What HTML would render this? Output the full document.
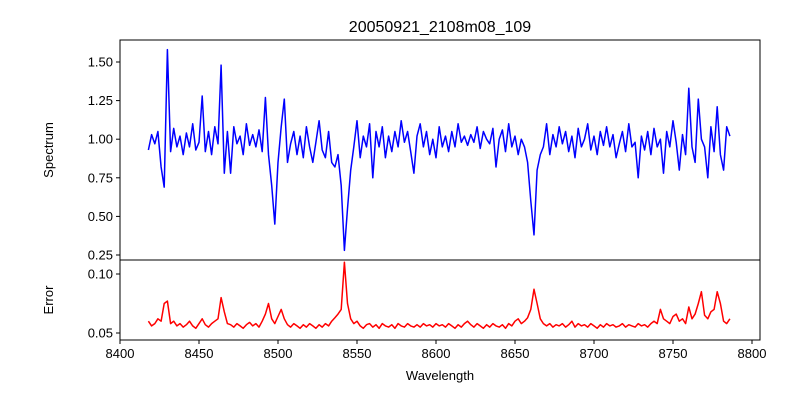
<!DOCTYPE html>
<html><head><meta charset="utf-8"><style>
body{margin:0;background:#fff}
svg text{font-family:"Liberation Sans",sans-serif;fill:#000}
</style></head><body>
<svg id="chart" width="800" height="400">
<rect x="0" y="0" width="800" height="400" fill="#fff"/>
<text x="440" y="32" font-size="16" text-anchor="middle">20050921_2108m08_109</text>
<text x="440" y="380" font-size="13" text-anchor="middle">Wavelength</text>
<text transform="translate(53,150) rotate(-90)" font-size="13" text-anchor="middle">Spectrum</text>
<text transform="translate(53,300) rotate(-90)" font-size="13" text-anchor="middle">Error</text>
<g id="g"></g>
</svg>
<script>
const waveStart = 8418;
const waveStep = 2;
const spectrum = [0.93,1.03,0.97,1.05,0.82,0.69,1.58,0.92,1.07,0.95,
1.02,0.90,1.04,0.95,1.10,0.93,0.98,1.28,0.92,1.05,
0.90,1.08,0.97,1.48,0.78,1.05,0.78,1.08,0.97,1.02,
0.90,1.10,0.96,1.03,0.95,1.06,0.92,1.27,0.90,0.70,
0.45,0.85,1.08,1.26,0.85,0.97,1.05,0.90,1.02,0.88,
1.08,0.95,0.85,0.98,1.12,0.93,0.88,1.05,0.85,0.82,
0.90,0.70,0.28,0.55,0.80,0.95,1.12,0.88,1.02,0.95,
1.10,0.75,1.05,0.95,1.08,0.88,1.02,0.92,1.05,0.95,
1.12,0.98,1.05,0.92,0.78,1.02,1.10,0.95,1.05,0.90,
1.00,0.88,1.08,0.95,1.02,0.92,1.05,0.95,1.10,0.98,
1.02,0.96,1.03,0.98,1.08,0.94,1.05,1.00,0.97,1.07,
0.82,1.00,1.06,0.92,1.10,0.95,1.02,0.90,1.00,0.95,
0.85,0.60,0.38,0.80,0.90,0.95,1.10,0.90,1.03,0.95,
1.08,0.97,1.05,0.92,1.02,0.88,1.07,0.95,1.00,1.10,
0.93,1.02,0.90,1.05,0.96,1.08,0.95,1.03,0.88,0.97,
1.05,0.92,1.10,0.95,0.98,0.75,1.02,0.93,1.05,0.90,
1.07,0.95,1.00,0.78,1.05,0.95,1.12,0.98,0.80,1.03,
0.90,1.33,0.95,0.85,1.26,1.00,0.95,0.75,1.08,0.92,
1.21,0.90,0.80,1.08,1.02];
const errorVals = [0.060,0.056,0.058,0.062,0.060,0.075,0.077,0.058,0.060,0.056,
0.058,0.055,0.057,0.060,0.056,0.054,0.058,0.062,0.057,0.055,
0.058,0.060,0.062,0.080,0.068,0.058,0.057,0.055,0.058,0.056,
0.054,0.057,0.059,0.056,0.058,0.055,0.060,0.066,0.075,0.062,
0.058,0.064,0.070,0.062,0.057,0.055,0.058,0.056,0.054,0.057,
0.055,0.058,0.056,0.054,0.057,0.055,0.058,0.056,0.060,0.063,
0.066,0.070,0.110,0.075,0.062,0.058,0.060,0.056,0.054,0.057,
0.058,0.055,0.057,0.054,0.058,0.056,0.055,0.057,0.054,0.058,
0.056,0.055,0.058,0.056,0.055,0.057,0.055,0.058,0.056,0.057,
0.055,0.058,0.056,0.057,0.055,0.058,0.056,0.054,0.057,0.055,
0.058,0.060,0.057,0.055,0.058,0.056,0.054,0.057,0.055,0.058,
0.056,0.055,0.057,0.054,0.058,0.056,0.060,0.062,0.058,0.060,
0.063,0.070,0.087,0.075,0.062,0.058,0.056,0.058,0.055,0.057,
0.056,0.058,0.055,0.057,0.060,0.055,0.058,0.056,0.057,0.055,
0.058,0.056,0.054,0.057,0.055,0.058,0.056,0.057,0.055,0.056,
0.058,0.055,0.057,0.056,0.055,0.058,0.056,0.057,0.055,0.058,
0.060,0.058,0.070,0.062,0.060,0.058,0.064,0.066,0.060,0.062,
0.058,0.072,0.062,0.066,0.075,0.085,0.065,0.062,0.068,0.070,
0.085,0.075,0.060,0.058,0.062];
const xTicks = [8400,8450,8500,8550,8600,8650,8700,8750,8800];
const specTicks = [0.25,0.50,0.75,1.00,1.25,1.50];
const errTicks = [0.05,0.10];

const NS='http://www.w3.org/2000/svg';
const g=document.getElementById('g');
const L=120,R=760,T1=40,B1=260,T2=260,B2=340;
const xs=w=>120+(w-8400)*(752-120)/400;
const ys=v=>62+(1.5-v)*(255-62)/1.25;
const ye=v=>333-(v-0.05)*(333-274)/0.05;
function mk(tag,attrs){const e=document.createElementNS(NS,tag);for(const k in attrs)e.setAttribute(k,attrs[k]);g.appendChild(e);return e;}
function line(sv,fy,color,name){
  let d='';sv.forEach((v,i)=>{const w=waveStart+waveStep*i;d+=(i?'L':'M')+xs(w).toFixed(1)+','+fy(v).toFixed(1);});
  const p=mk('path',{d:d,fill:'none',stroke:color,'stroke-width':1.5,'stroke-linejoin':'round'});
  
  
}
line(spectrum,ys,'#0000ff','spectrum-line');
line(errorVals,ye,'#ff0000','error-line');
const f1=mk('rect',{x:L,y:T1,width:R-L,height:B1-T1,fill:'none',stroke:'#000','stroke-width':1});


const f2=mk('rect',{x:L,y:T2,width:R-L,height:B2-T2,fill:'none',stroke:'#000','stroke-width':1});


xTicks.forEach(t=>{const x=xs(t);
  const tk=mk('line',{x1:x,y1:B2,x2:x,y2:B2+4,stroke:'#000'});
  
  
  const tx=mk('text',{x:x,y:B2+18,'font-size':13,'text-anchor':'middle'});tx.textContent=t;
  
  
});
specTicks.forEach(t=>{const y=ys(t);
  const tk=mk('line',{x1:L-4,y1:y,x2:L,y2:y,stroke:'#000'});
  
  
  const tx=mk('text',{x:L-7,y:y+4.5,'font-size':13,'text-anchor':'end'});tx.textContent=t.toFixed(2);
  
  
});
errTicks.forEach(t=>{const y=ye(t);
  const tk=mk('line',{x1:L-4,y1:y,x2:L,y2:y,stroke:'#000'});
  
  
  const tx=mk('text',{x:L-7,y:y+4.5,'font-size':13,'text-anchor':'end'});tx.textContent=t.toFixed(2);
  
  
});
</script>
</body></html>
